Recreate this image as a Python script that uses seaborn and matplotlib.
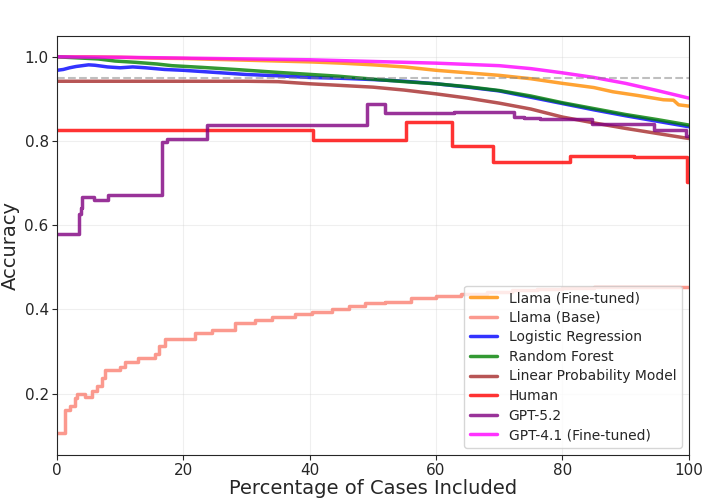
import numpy as np
import pandas as pd
import matplotlib
matplotlib.use("Agg")
import matplotlib.pyplot as plt
import seaborn as sns

# Accuracy vs. percentage of cases included
pct_llama_ft = [0, 5, 10, 15, 20, 25, 30, 35, 40, 45, 50, 55, 60, 65, 70, 75, 80, 85, 88, 92, 96, 97.6, 98.4, 100]
acc_llama_ft = [1.0, 1.0, 0.999, 0.997, 0.996, 0.994, 0.992, 0.990, 0.988, 0.985, 0.981, 0.976, 0.968, 0.962,
                0.956, 0.948, 0.937, 0.927, 0.917, 0.908, 0.898, 0.897, 0.886, 0.883]

pct_llama_base = [0, 1.2, 2.06, 2.85, 3.1, 4.4, 5.5, 6.3, 7.1, 7.6, 10.0, 10.8, 12.9, 15.5, 16.1, 17.1, 19.2,
                  21.9, 24.5, 28.2, 31.4, 34.0, 37.7, 40.4, 43.5, 46.2, 48.8, 52, 56, 60, 64, 68, 72, 76, 80,
                  85, 90, 95, 100]
acc_llama_base = [0.106, 0.160, 0.171, 0.190, 0.200, 0.193, 0.205, 0.217, 0.238, 0.255, 0.262, 0.274, 0.285,
                  0.295, 0.313, 0.329, 0.330, 0.345, 0.352, 0.368, 0.375, 0.383, 0.390, 0.394, 0.400, 0.408,
                  0.416, 0.417, 0.426, 0.432, 0.437, 0.441, 0.445, 0.448, 0.450, 0.452, 0.453, 0.454, 0.454]

pct_logreg = [0, 1, 2, 3, 4, 5, 6, 8, 10, 12, 14, 17, 20, 25, 30, 35, 40, 45, 50, 55, 60, 65, 70, 75, 80,
              85, 90, 95, 100]
acc_logreg = [0.968, 0.970, 0.974, 0.977, 0.979, 0.981, 0.980, 0.976, 0.974, 0.976, 0.974, 0.970, 0.968,
              0.963, 0.958, 0.955, 0.951, 0.949, 0.946, 0.942, 0.936, 0.928, 0.919, 0.904, 0.889, 0.874,
              0.860, 0.847, 0.834]

pct_rf = [0, 6.5, 9.2, 12.4, 15.8, 18.2, 22.9, 28.2, 35, 38.2, 44.5, 50, 55, 60, 65, 70, 75, 80, 85, 90, 95, 100]
acc_rf = [1.0, 0.995, 0.99, 0.987, 0.983, 0.979, 0.975, 0.970, 0.963, 0.960, 0.954, 0.947, 0.941, 0.936,
          0.929, 0.920, 0.907, 0.891, 0.877, 0.863, 0.851, 0.838]

pct_lpm = [0, 10, 20, 30, 35, 40, 45, 50, 55, 60, 65, 70, 75, 80, 85, 90, 95, 100]
acc_lpm = [0.942, 0.942, 0.942, 0.942, 0.941, 0.936, 0.932, 0.928, 0.921, 0.912, 0.902, 0.890, 0.876,
           0.857, 0.843, 0.830, 0.818, 0.806]

pct_human = [0, 40.6, 55.2, 62.5, 69.1, 81.2, 91.3, 99.8, 100]
acc_human = [0.826, 0.803, 0.844, 0.789, 0.749, 0.765, 0.762, 0.702, 0.702]

pct_gpt52 = [0, 3.5, 3.8, 4.0, 5.8, 8.0, 16.6, 17.4, 23.7, 49.1, 52.0, 62.8, 72.3, 73.9, 76.5, 84.7, 94.5,
             98.7, 99.5, 100]
acc_gpt52 = [0.579, 0.626, 0.642, 0.666, 0.659, 0.672, 0.797, 0.805, 0.838, 0.888, 0.866, 0.868, 0.858,
             0.854, 0.852, 0.840, 0.827, 0.825, 0.813, 0.813]

pct_gpt41 = [0, 10, 20, 30, 40, 50, 55, 60, 65, 70, 75, 80, 85, 90, 95, 100]
acc_gpt41 = [1.0, 0.999, 0.997, 0.995, 0.993, 0.989, 0.987, 0.985, 0.982, 0.979, 0.972, 0.962, 0.951,
             0.937, 0.920, 0.902]

models = ["Llama (Fine-tuned)", "Llama (Base)", "Logistic Regression", "Random Forest",
          "Linear Probability Model", "Human", "GPT-5.2", "GPT-4.1 (Fine-tuned)"]
series = [(pct_llama_ft, acc_llama_ft), (pct_llama_base, acc_llama_base), (pct_logreg, acc_logreg),
          (pct_rf, acc_rf), (pct_lpm, acc_lpm), (pct_human, acc_human), (pct_gpt52, acc_gpt52),
          (pct_gpt41, acc_gpt41)]
colors = ["darkorange", "salmon", "blue", "green", "brown", "red", "purple", "magenta"]
stepped = ["Llama (Base)", "Human", "GPT-5.2"]

sns.set_style("ticks")
plt.rcParams['font.family'] = ['DejaVu Sans']

fig = plt.figure(figsize=(7.17, 5.04), dpi=100)
ax = fig.add_axes([0.0795, 0.098, 0.881, 0.831])

for name, (xs, ys), c in zip(models, series, colors):
    ds = "steps-post" if name in stepped else "default"
    sns.lineplot(x=xs, y=ys, color=c, label=name, estimator=None, sort=False,
                 drawstyle=ds, linewidth=2.5, alpha=0.8, ax=ax)

ax.axhline(0.95, color="gray", linestyle="--", linewidth=1.5, alpha=0.5)

ax.set_xlim(0, 100)
ax.set_ylim(0.055, 1.05)
ax.set_xticks([0, 20, 40, 60, 80, 100])
ax.set_yticks([0.2, 0.4, 0.6, 0.8, 1.0])
ax.grid(True, alpha=0.3)
ax.tick_params(labelsize=11, pad=2.5)
ax.set_xlabel("Percentage of Cases Included", fontsize=14, labelpad=1)
ax.set_ylabel("Accuracy", fontsize=14, labelpad=3)

leg = ax.legend(loc="lower right", fontsize=10, labelspacing=0.4)
for line in leg.get_lines():
    line.set_linewidth(2.5)

fig.savefig("out.png", dpi=100)
